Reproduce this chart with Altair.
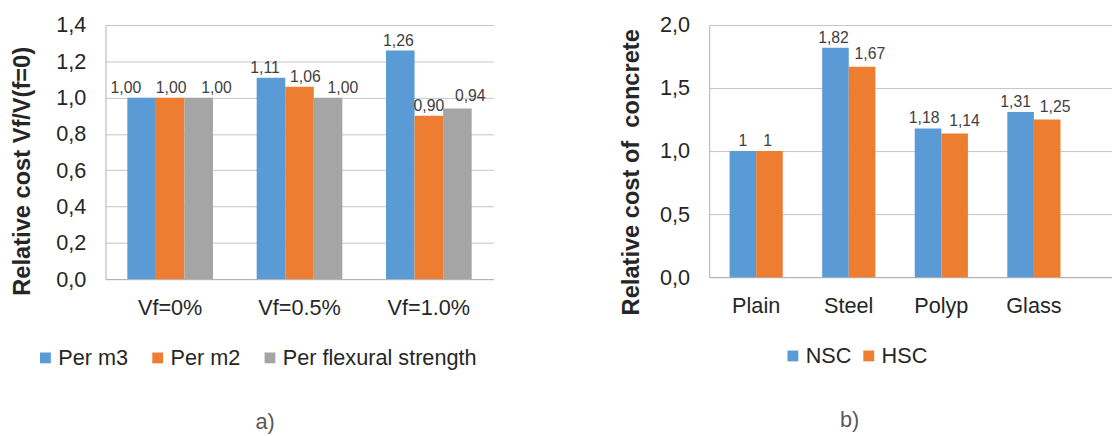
import altair as alt
import pandas as pd

# ---------------- data (panel a) ----------------
cats_a = ["Vf=0%", "Vf=0.5%", "Vf=1.0%"]
series_a = ["Per m3", "Per m2", "Per flexural strength"]
per_m3 = [1.00, 1.11, 1.26]
per_m2 = [1.00, 1.06, 0.90]
per_flex = [1.00, 1.00, 0.94]
colors_a = ["#5b9bd5", "#ed7d31", "#a5a5a5"]
yticks_a = [0.0, 0.2, 0.4, 0.6, 0.8, 1.0, 1.2, 1.4]

# ---------------- data (panel b) ----------------
cats_b = ["Plain", "Steel", "Polyp", "Glass"]
series_b = ["NSC", "HSC"]
nsc = [1.00, 1.82, 1.18, 1.31]
hsc = [1.00, 1.67, 1.14, 1.25]
labels_nsc = ["1", "1,82", "1,18", "1,31"]
labels_hsc = ["1", "1,67", "1,14", "1,25"]
colors_b = ["#5b9bd5", "#ed7d31"]
yticks_b = [0.0, 0.5, 1.0, 1.5, 2.0]

# label nudges (dx, dy) in pixels, as placed in the original figure
nudge_a = {
    ("Vf=0%", "Per m3"): (-16, -2), ("Vf=0%", "Per m2"): (1, -2),
    ("Vf=0%", "Per flexural strength"): (18, -2),
    ("Vf=0.5%", "Per m3"): (-6, -2), ("Vf=0.5%", "Per m2"): (6, -2),
    ("Vf=0.5%", "Per flexural strength"): (15, -2),
    ("Vf=1.0%", "Per m3"): (-2, -2), ("Vf=1.0%", "Per m2"): (0, -2),
    ("Vf=1.0%", "Per flexural strength"): (13, -5),
}
nudge_b = {
    ("Plain", "NSC"): (0, -2), ("Plain", "HSC"): (-2, -2),
    ("Steel", "NSC"): (-2, -2), ("Steel", "HSC"): (8, -5),
    ("Polyp", "NSC"): (-4, -2), ("Polyp", "HSC"): (10, -5),
    ("Glass", "NSC"): (-5, -2), ("Glass", "HSC"): (8, -5),
}

rows_a = []
for s, vals in zip(series_a, [per_m3, per_m2, per_flex]):
    for c, v in zip(cats_a, vals):
        rows_a.append({"cat": c, "series": s, "value": v, "key": c + "|" + s,
                       "label": f"{v:.2f}".replace(".", ",")})
df_a = pd.DataFrame(rows_a)

rows_b = []
for s, vals, labs in zip(series_b, [nsc, hsc], [labels_nsc, labels_hsc]):
    for c, v, l in zip(cats_b, vals, labs):
        rows_b.append({"cat": c, "series": s, "value": v, "key": c + "|" + s,
                       "label": l})
df_b = pd.DataFrame(rows_b)

FONT = "Liberation Sans"
TXT = "#262626"
DOMAIN = "#b0b0b0"
GRID = "#c4c4c4"
label_expr = "replace(format(datum.value, '.1f'), '.', ',')"


def y_axis(values, title, tpad, ty):
    return alt.Axis(values=values, labelExpr=label_expr, title=title,
                    titleFont=FONT, titleFontSize=24, titleFontWeight="bold",
                    titleColor=TXT, titlePadding=tpad, titleY=ty,
                    labelFont=FONT, labelFontSize=22, labelColor=TXT,
                    labelPadding=20, ticks=False, domainColor=DOMAIN,
                    gridColor=GRID, grid=True)


def x_axis():
    return alt.Axis(title=None, labelAngle=0, labelFont=FONT, labelFontSize=22,
                    labelColor=TXT, labelPadding=19, ticks=False,
                    domainColor=DOMAIN, grid=False)


def legend(lx, ly, cpad):
    return alt.Legend(title=None, orient="none", direction="horizontal",
                      legendX=lx, legendY=ly, symbolType="square",
                      symbolSize=121, symbolStrokeWidth=0, labelFont=FONT,
                      labelFontSize=22, labelColor=TXT, labelOffset=2,
                      labelLimit=500, columnPadding=cpad, padding=0)


def text_layers(base, nudges):
    groups = {}
    for (c, s), d in nudges.items():
        groups.setdefault(d, []).append(c + "|" + s)
    layers = []
    for (dx, dy), keys in groups.items():
        layers.append(
            base.mark_text(baseline="bottom", dx=dx, dy=dy, font=FONT,
                           fontSize=16, color="#404040")
            .encode(text="label:N")
            .transform_filter(alt.FieldOneOfPredicate(field="key", oneOf=keys)))
    return layers


# ---------------- panel a ----------------
base_a = alt.Chart(df_a).encode(
    x=alt.X("cat:N", sort=cats_a,
            scale=alt.Scale(type="band", domain=cats_a, paddingInner=0.3376,
                            paddingOuter=0.1688),
            axis=x_axis()),
    xOffset=alt.XOffset("series:N", sort=series_a,
                        scale=alt.Scale(type="band", domain=series_a,
                                        paddingInner=0, paddingOuter=0)),
    y=alt.Y("value:Q", scale=alt.Scale(domain=[0, 1.4], nice=False),
            axis=y_axis(yticks_a, "Relative cost Vf/V(f=0)", 22, 148)),
)
bars_a = base_a.mark_bar().encode(
    color=alt.Color("series:N", sort=series_a,
                    scale=alt.Scale(domain=series_a, range=colors_a),
                    legend=legend(-72, 327, 19)))
panel_a = alt.layer(bars_a, *text_layers(base_a, nudge_a)).properties(
    width=394, height=258,
    title=alt.TitleParams("a)", orient="bottom", anchor="middle", frame="group",
                          offset=44, dx=-35, font=FONT, fontSize=22,
                          fontWeight="normal", color="#595959"))

# ---------------- panel b ----------------
base_b = alt.Chart(df_b).encode(
    x=alt.X("cat:N", sort=cats_b,
            scale=alt.Scale(type="band", domain=cats_b, paddingInner=0.4255,
                            paddingOuter=0.3883, align=0.2836),
            axis=x_axis()),
    xOffset=alt.XOffset("series:N", sort=series_b,
                        scale=alt.Scale(type="band", domain=series_b,
                                        paddingInner=0, paddingOuter=0)),
    y=alt.Y("value:Q", scale=alt.Scale(domain=[0, 2.0], nice=False),
            axis=y_axis(yticks_b, "Relative cost of \u00a0concrete", 16, 149)),
)
bars_b = base_b.mark_bar().encode(
    color=alt.Color("series:N", sort=series_b,
                    scale=alt.Scale(domain=series_b, range=colors_b),
                    legend=legend(74, 325, 6)))
panel_b = alt.layer(bars_b, *text_layers(base_b, nudge_b)).properties(
    width=409, height=256,
    title=alt.TitleParams("b)", orient="bottom", anchor="middle", frame="group",
                          offset=44, dx=-62, font=FONT, fontSize=22,
                          fontWeight="normal", color="#595959"))

chart = alt.hconcat(panel_a, panel_b, spacing=128).resolve_scale(
    color="independent", x="independent", y="independent",
    xOffset="independent"
).configure_view(stroke=None).properties(
    padding={"left": 2, "top": 3, "right": 0, "bottom": 0},
    background="white")

chart.save("out.html", embed_options={"renderer": "svg", "actions": False})
